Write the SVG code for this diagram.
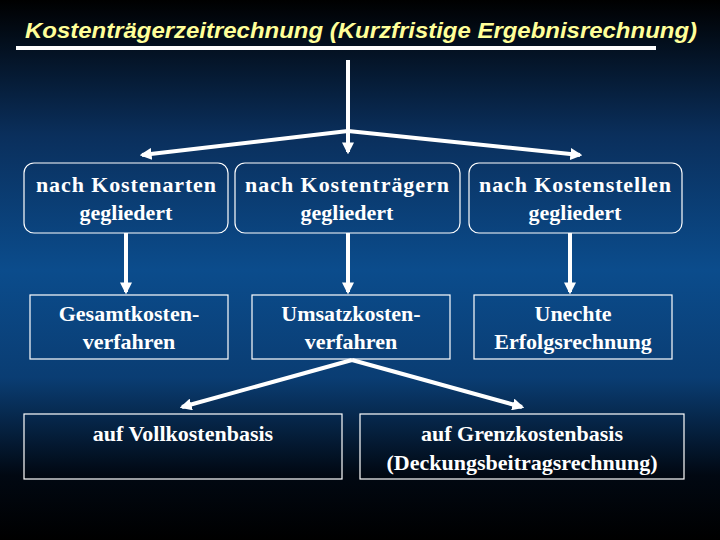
<svg xmlns="http://www.w3.org/2000/svg" width="720" height="540" viewBox="0 0 720 540">
<defs>
<linearGradient id="bg" x1="0" y1="0" x2="0" y2="1">
<stop offset="0" stop-color="#000000"/>
<stop offset="0.25" stop-color="#0a2f5c"/>
<stop offset="0.5" stop-color="#0b4c8c"/>
<stop offset="0.7" stop-color="#0a3d73"/>
<stop offset="0.88" stop-color="#010812"/>
<stop offset="1" stop-color="#000000"/>
</linearGradient>
<marker id="ah" viewBox="0 0 10 10" refX="8" refY="5" markerWidth="3" markerHeight="3" orient="auto" markerUnits="strokeWidth">
<path d="M0,0 L10,5 L0,10 z" fill="#fff"/>
</marker>
<style>
.b{fill:none;stroke:#fff;stroke-width:1.2}
.t{font-family:"Liberation Serif",serif;font-size:22px;font-weight:bold;fill:#fff;text-anchor:middle}
.c{stroke:#fff;stroke-width:4;fill:none}
</style>
</defs>
<rect width="720" height="540" fill="url(#bg)"/>
<text x="361" y="38" font-family="Liberation Sans,sans-serif" font-size="22" font-weight="bold" font-style="italic" fill="#ffff99" text-anchor="middle" textLength="672" lengthAdjust="spacingAndGlyphs">Kostenträgerzeitrechnung (Kurzfristige Ergebnisrechnung)</text>
<line x1="16" y1="48" x2="656" y2="48" stroke="#fff" stroke-width="4"/>
<g id="connectors">
<line class="c" x1="348" y1="60" x2="348" y2="152" marker-end="url(#ah)"/>
<line class="c" x1="348" y1="131" x2="142" y2="155" marker-end="url(#ah)"/>
<line class="c" x1="348" y1="131" x2="580" y2="155" marker-end="url(#ah)"/>
<line class="c" x1="126" y1="233" x2="126" y2="292" marker-end="url(#ah)"/>
<line class="c" x1="348" y1="233" x2="348" y2="292" marker-end="url(#ah)"/>
<line class="c" x1="570" y1="233" x2="570" y2="292" marker-end="url(#ah)"/>
<line class="c" x1="352" y1="360" x2="182" y2="407" marker-end="url(#ah)"/>
<line class="c" x1="352" y1="360" x2="522" y2="407" marker-end="url(#ah)"/>
</g>
<g id="n1"><rect class="b" x="24" y="163" width="204" height="70" rx="10"/><text class="t" x="126" y="192" textLength="180">nach Kostenarten</text><text class="t" x="126" y="220">gegliedert</text></g>
<g id="n2"><rect class="b" x="235" y="163" width="225" height="70" rx="10"/><text class="t" x="347" y="192" textLength="204">nach Kostenträgern</text><text class="t" x="347" y="220">gegliedert</text></g>
<g id="n3"><rect class="b" x="469" y="163" width="213" height="70" rx="10"/><text class="t" x="575" y="192" textLength="192">nach Kostenstellen</text><text class="t" x="575" y="220">gegliedert</text></g>
<g id="n4"><rect class="b" x="30" y="295" width="198" height="64"/><text class="t" x="129" y="321">Gesamtkosten-</text><text class="t" x="129" y="349">verfahren</text></g>
<g id="n5"><rect class="b" x="252" y="295" width="198" height="64"/><text class="t" x="351" y="321">Umsatzkosten-</text><text class="t" x="351" y="349">verfahren</text></g>
<g id="n6"><rect class="b" x="474" y="295" width="198" height="64"/><text class="t" x="573" y="321">Unechte</text><text class="t" x="573" y="349">Erfolgsrechnung</text></g>
<g id="n7"><rect class="b" x="24" y="414" width="318" height="65"/><text class="t" x="183" y="441">auf Vollkostenbasis</text></g>
<g id="n8"><rect class="b" x="360" y="414" width="324" height="65"/><text class="t" x="522" y="441">auf Grenzkostenbasis</text><text class="t" x="522" y="470">(Deckungsbeitragsrechnung)</text></g>
</svg>
